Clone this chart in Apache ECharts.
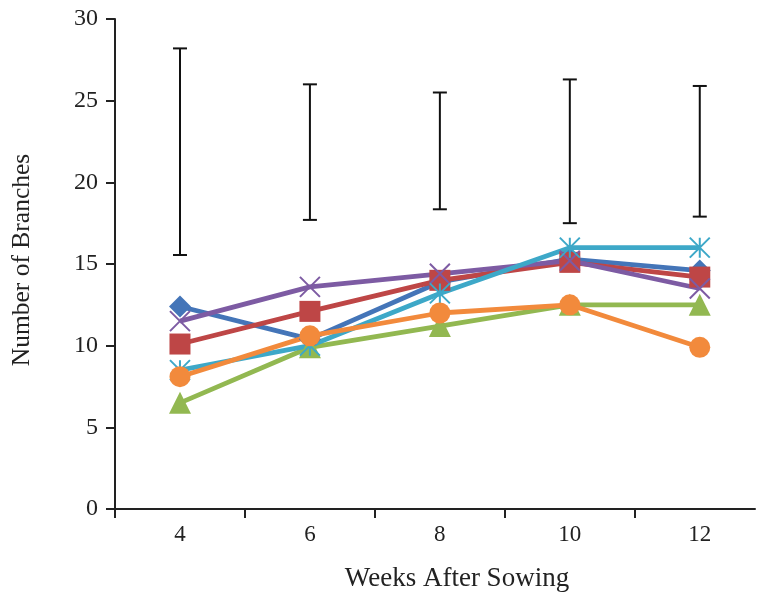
<!DOCTYPE html>
<html>
<head>
<meta charset="utf-8">
<script src="https://cdn.jsdelivr.net/npm/echarts@6/dist/echarts.min.js"></script>
<style>html,body{margin:0;padding:0;background:#fff;}#c{width:758px;height:597px;}</style>
</head>
<body>
<div id="c"></div>
<script>
var weeks = [4, 6, 8, 10, 12];
var xBoundaryTicks = [3, 5, 7, 9, 11];
var yTicks = [0, 5, 10, 15, 20, 25, 30];
var seriesBlue   = [12.4, 10.4, 13.9, 15.3, 14.6];
var seriesRed    = [10.1, 12.1, 14.0, 15.1, 14.2];
var seriesGreen  = [6.5, 9.9, 11.2, 12.5, 12.5];
var seriesPurple = [11.5, 13.6, 14.4, 15.2, 13.5];
var seriesCyan   = [8.5, 10.0, 13.2, 16.0, 16.0];
var seriesOrange = [8.1, 10.6, 12.0, 12.5, 9.9];
var errLow  = [15.55, 17.7, 18.35, 17.5, 17.9];
var errHigh = [28.2, 26.0, 25.5, 26.3, 25.9];

var FONT = '"Liberation Serif", "Times New Roman", serif';
var chart = echarts.init(document.getElementById('c'));

function pairs(vals) { return weeks.map(function (w, i) { return [w, vals[i]]; }); }

function lineSeries(name, data, color, symbol, size, strokeOnly) {
  var s = {
    name: name, type: 'line', data: pairs(data),
    symbol: symbol, symbolSize: size,
    lineStyle: { color: color, width: 4.8 },
    itemStyle: { color: color },
    z: 3
  };
  if (strokeOnly) {
    s.itemStyle = { color: 'none', borderColor: color, borderWidth: 2 };
  }
  return s;
}

var errData = weeks.map(function (w, i) { return [w, errLow[i], errHigh[i]]; });

chart.setOption({
  animation: false,
  backgroundColor: '#fff',
  grid: { left: 115, top: 19, right: 3, bottom: 86, containLabel: false },
  xAxis: {
    type: 'value', min: xBoundaryTicks[0], max: 12.85,
    name: 'Weeks After Sowing', nameLocation: 'middle', nameGap: 56,
    nameTextStyle: { fontFamily: FONT, fontSize: 27, color: '#222', padding: [0, 0, 0, 44] },
    axisLine: { lineStyle: { color: '#222', width: 2 } },
    axisTick: { show: true, length: 9, customValues: xBoundaryTicks, lineStyle: { color: '#222', width: 2 } },
    axisLabel: { fontFamily: FONT, fontSize: 23, color: '#222', margin: 14, customValues: weeks },
    splitLine: { show: false }
  },
  yAxis: {
    type: 'value', min: yTicks[0], max: yTicks[yTicks.length - 1], interval: 5,
    name: 'Number of Branches', nameLocation: 'middle', nameGap: 80,
    nameTextStyle: { fontFamily: FONT, fontSize: 25.5, color: '#222', padding: [0, 0, 0, 8] },
    axisLine: { show: true, lineStyle: { color: '#222', width: 2 } },
    axisTick: { show: true, length: 9, lineStyle: { color: '#222', width: 2 } },
    axisLabel: { fontFamily: FONT, fontSize: 24, color: '#222', margin: 17 },
    splitLine: { show: false }
  },
  series: [
    {
      type: 'custom', name: 'err', data: errData, z: 2,
      renderItem: function (params, api) {
        var x = api.value(0);
        var lo = api.coord([x, api.value(1)]);
        var hi = api.coord([x, api.value(2)]);
        var hw = 7;
        var st = { stroke: '#111', lineWidth: 2 };
        return { type: 'group', children: [
          { type: 'line', shape: { x1: lo[0], y1: lo[1], x2: hi[0], y2: hi[1] }, style: st },
          { type: 'line', shape: { x1: lo[0] - hw, y1: lo[1], x2: lo[0] + hw, y2: lo[1] }, style: st },
          { type: 'line', shape: { x1: hi[0] - hw, y1: hi[1], x2: hi[0] + hw, y2: hi[1] }, style: st }
        ] };
      }
    },
    lineSeries('S1', seriesBlue, '#4475B8', 'diamond', 22),
    lineSeries('S2', seriesRed, '#BE4646', 'rect', 21),
    lineSeries('S3', seriesGreen, '#92B851', 'triangle', 22),
    lineSeries('S4', seriesPurple, '#7D5BA3', 'path://M0,0L10,10M10,0L0,10', 20, true),
    lineSeries('S5', seriesCyan, '#3DA8C8', 'path://M0,0L10,10M10,0L0,10M5,0L5,10', 20, true),
    lineSeries('S6', seriesOrange, '#F28A3C', 'circle', 21)
  ]
});
</script>
</body>
</html>
